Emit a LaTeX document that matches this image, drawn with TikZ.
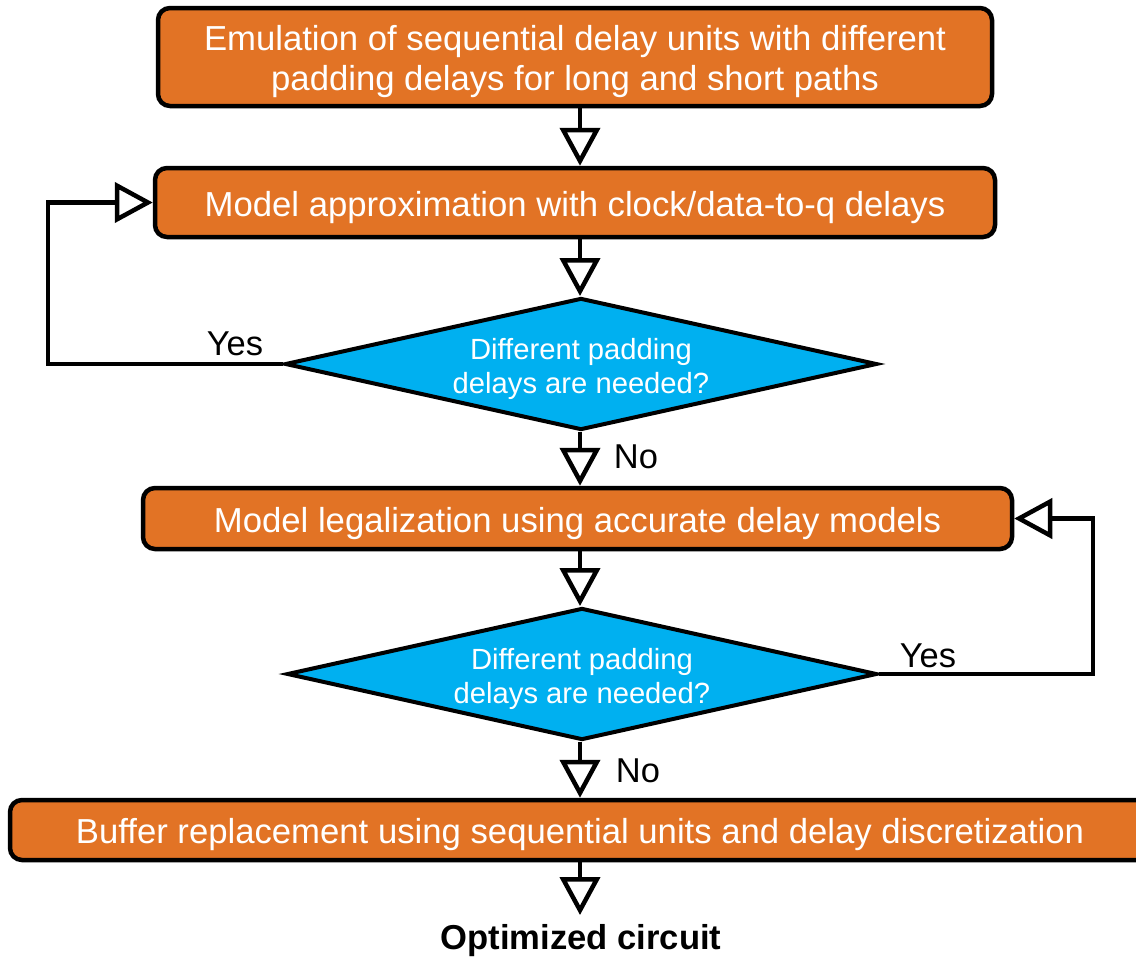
\documentclass[tikz,border=0pt]{standalone}
\usepackage{fontspec}
\setmainfont{Liberation Sans}
\usetikzlibrary{shapes.geometric,arrows.meta}
\definecolor{boxorange}{HTML}{E27325}
\definecolor{diablue}{HTML}{00B0F0}
\tikzset{
  procbox/.style={draw=black, line width=4.5pt, fill=boxorange, rounded corners=12pt, text=white, font=\fontsize{34.7}{40}\selectfont, align=center, inner sep=0pt, text height=34pt, text depth=7pt},
  decision/.style={diamond, draw=black, line width=4pt, fill=diablue, text=white, font=\fontsize{29.2}{34}\selectfont, align=center, inner sep=0pt, aspect=4.48, text height=65.3pt, text depth=6.1pt},
  arr/.style={line width=4.5pt, -{Triangle[open, length=38pt, width=40pt]}},
  lbl/.style={font=\fontsize{34.5}{40}\selectfont, text=black, inner sep=0pt},
}
\begin{document}
\begin{tikzpicture}[x=1pt,y=-1pt]
\useasboundingbox (0,0) rectangle (1136,959);
\node[procbox, minimum width=834pt, minimum height=98pt, text height=73pt, text depth=7pt] (b1) at (575,57) {Emulation of sequential delay units with different\\padding delays for long and short paths};
\node[procbox, minimum width=840pt, minimum height=69pt] (b2) at (575,202.5) {Model approximation with clock/data-to-q delays};
\node[decision, minimum width=592pt, minimum height=132pt] (d1) at (581,364) {Different padding\\delays are needed?};
\node[procbox, minimum width=869pt, minimum height=61pt] (b3) at (577.5,518.5) {Model legalization using accurate delay models};
\node[decision, minimum width=590pt, minimum height=132pt] (d2) at (582,674) {Different padding\\delays are needed?};
\node[procbox, minimum width=1140pt, minimum height=60pt] (b4) at (580,830) {Buffer replacement using sequential units and delay discretization};
\node[font=\bfseries\fontsize{34.6}{40}\selectfont, inner sep=0pt] (out) at (581,941) {Optimized circuit};
\coordinate (L1) at (48,364);
\coordinate (R2) at (1093,674);
\coordinate (oend) at (580,915);
\draw[arr] (b1.south -| 580,0) -- (b2.north -| 580,0);
\draw[arr] (b2.south -| 580,0) -- (d1.north -| 580,0);
\draw[arr] (d1.south -| 580,0) -- (b3.north -| 580,0);
\draw[arr] (b3.south -| 580,0) -- (d2.north -| 580,0);
\draw[arr] (d2.south -| 580,0) -- (b4.north -| 580,0);
\draw[arr] (b4.south -| 580,0) -- (oend);
\draw[arr] (d1.west) -- (L1) |- (b2.west);
\draw[arr] (d2.east) -- (R2) |- (b3.east);
\node[lbl] (y1) at (235,344) {Yes};
\node[lbl] (n1) at (636,457) {No};
\node[lbl] (y2) at (928,656) {Yes};
\node[lbl] (n2) at (638,771) {No};
\end{tikzpicture}
\end{document}
